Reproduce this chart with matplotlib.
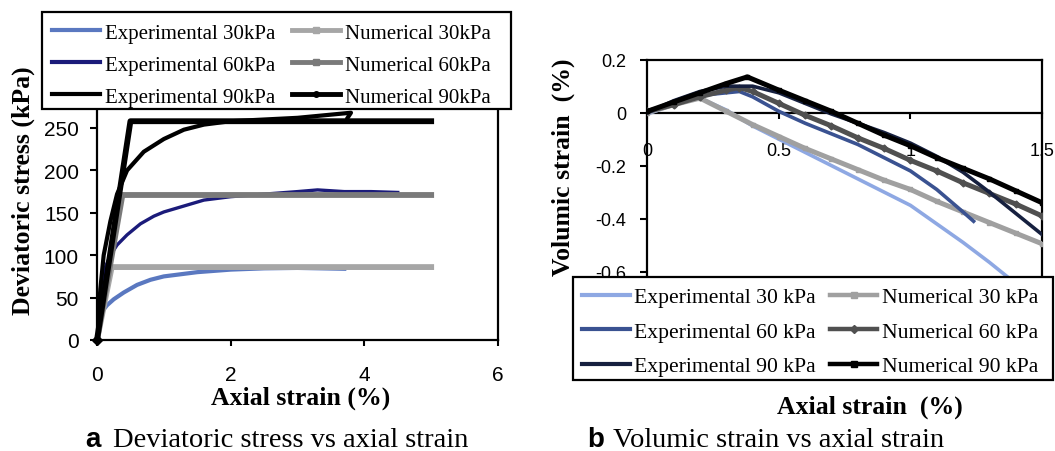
import matplotlib
matplotlib.use("Agg")
import matplotlib.pyplot as plt
from matplotlib.lines import Line2D
from matplotlib.patches import Rectangle

plt.rcParams['axes.unicode_minus'] = False
plt.rcParams['font.family'] = ['Liberation Sans', 'DejaVu Sans']

# ---------------- data: (a) deviatoric stress vs axial strain ----------------
a_exp30_x = [0, 0.02, 0.05, 0.1, 0.15, 0.25, 0.4, 0.6, 0.8, 1.0, 1.5, 2.0, 2.5, 3.0, 3.7]
a_exp30_y = [0, 15, 27, 36, 41, 48, 56, 65, 71, 75, 80, 83, 84.5, 85, 84]
a_exp60_x = [0, 0.03, 0.07, 0.12, 0.2, 0.3, 0.45, 0.65, 0.85, 1.0, 1.3, 1.6, 2.0, 2.5, 3.0, 3.3, 3.7, 4.1, 4.5]
a_exp60_y = [0, 35, 65, 85, 100, 112, 124, 137, 146, 151, 158, 165, 169, 172, 175, 177, 175, 175, 174]
a_exp90_x = [0, 0.05, 0.1, 0.2, 0.3, 0.45, 0.7, 1.0, 1.3, 1.6, 2.0, 2.5, 3.0, 3.4, 3.8, 3.75]
a_exp90_y = [0, 60, 100, 140, 172, 200, 222, 237, 248, 254, 258, 260, 262, 265, 268, 262]
a_num30_x = [0, 0.22, 5.0]
a_num30_y = [0, 86, 86]
a_num60_x = [0, 0.38, 5.0]
a_num60_y = [0, 171, 171]
a_num90_x = [0, 0.5, 5.0]
a_num90_y = [0, 258, 258]
a_xticks = [0, 2, 4, 6]
a_yticks = [0, 50, 100, 150, 200, 250]
a_labels = ['Experimental 30kPa', 'Experimental 60kPa', 'Experimental 90kPa',
            'Numerical 30kPa', 'Numerical 60kPa', 'Numerical 90kPa']

# ---------------- data: (b) volumic strain vs axial strain ----------------
b_exp30_x = [0, 0.1, 0.2, 0.3, 0.4, 0.5, 0.6, 0.7, 0.8, 0.9, 1.0, 1.1, 1.2, 1.3, 1.4, 1.5]
b_exp30_y = [-0.005, 0.03, 0.055, 0.01, -0.05, -0.1, -0.15, -0.2, -0.25, -0.3, -0.35, -0.42, -0.49, -0.565, -0.645, -0.73]
b_exp60_x = [0, 0.1, 0.2, 0.3, 0.35, 0.4, 0.5, 0.6, 0.7, 0.8, 0.9, 1.0, 1.1, 1.2, 1.24]
b_exp60_y = [0.0, 0.035, 0.065, 0.075, 0.08, 0.06, 0.005, -0.04, -0.08, -0.12, -0.17, -0.22, -0.29, -0.375, -0.41]
b_exp90_x = [0, 0.1, 0.2, 0.3, 0.4, 0.5, 0.6, 0.7, 0.8, 0.9, 1.0, 1.1, 1.2, 1.3, 1.4, 1.5]
b_exp90_y = [0.0, 0.045, 0.08, 0.1, 0.1, 0.075, 0.035, -0.005, -0.04, -0.075, -0.115, -0.165, -0.225, -0.3, -0.38, -0.46]
b_num30_x = [0, 0.1, 0.2, 0.3, 0.4, 0.5, 0.6, 0.7, 0.8, 0.9, 1.0, 1.1, 1.2, 1.3, 1.4, 1.5]
b_num30_y = [0.0, 0.03, 0.055, 0.005, -0.045, -0.09, -0.135, -0.175, -0.215, -0.255, -0.29, -0.335, -0.375, -0.415, -0.455, -0.495]
b_num60_x = [0, 0.1, 0.2, 0.3, 0.35, 0.4, 0.5, 0.6, 0.7, 0.8, 0.9, 1.0, 1.1, 1.2, 1.3, 1.4, 1.5]
b_num60_y = [0.005, 0.03, 0.06, 0.085, 0.095, 0.08, 0.035, -0.01, -0.05, -0.095, -0.135, -0.18, -0.22, -0.265, -0.305, -0.345, -0.39]
b_num90_x = [0, 0.1, 0.2, 0.3, 0.38, 0.5, 0.6, 0.7, 0.8, 0.9, 1.0, 1.1, 1.2, 1.3, 1.4, 1.5]
b_num90_y = [0.005, 0.04, 0.075, 0.11, 0.135, 0.085, 0.045, 0.005, -0.04, -0.085, -0.125, -0.17, -0.21, -0.25, -0.295, -0.34]
b_xticks = [0, 0.5, 1, 1.5]
b_xticklabels = ['0', '0.5', '1', '1.5']
b_yticks = [0.2, 0, -0.2, -0.4, -0.6]
b_yticklabels = ['0.2', '0', '-0.2', '-0.4', '-0.6']
b_labels = ['Experimental 30 kPa', 'Experimental 60 kPa', 'Experimental 90 kPa',
            'Numerical 30 kPa', 'Numerical 60 kPa', 'Numerical 90 kPa']

W, H = 1055, 452
fig = plt.figure(figsize=(W / 100, H / 100), dpi=100)

def fx(px):
    return px / W

def fy(py):
    return 1 - py / H

SERIF = ['Liberation Serif', 'DejaVu Serif']
SANS = ['Liberation Sans', 'DejaVu Sans']

# ---------------- axes (a) ----------------
axL, axR_, axB, axT = 97, 498, 341, 86.6
ax1 = fig.add_axes([fx(axL), fy(axB), (axR_ - axL) / W, (axB - axT) / H])
ax1.plot(a_exp30_x, a_exp30_y, color='#5a78c0', lw=3.0, zorder=3)
ax1.plot(a_exp60_x, a_exp60_y, color='#1b1b7a', lw=2.4, zorder=3)
ax1.plot(a_num30_x, a_num30_y, color='#a6a6a6', lw=4.2, zorder=4)
ax1.plot(a_num60_x, a_num60_y, color='#7a7a7a', lw=4.2, zorder=4)
ax1.plot(a_exp90_x, a_exp90_y, color='black', lw=3.0, zorder=5)
ax1.plot(a_num90_x, a_num90_y, color='black', lw=4.2, marker='D', ms=5, markevery=[0],
         zorder=5, clip_on=False)
ax1.set_xlim(0, 6)
ax1.set_ylim(0, 300)
ax1.set_xticks(a_xticks)
ax1.set_yticks(a_yticks)
ax1.tick_params(axis='x', direction='out', length=4, width=1.5, pad=14, labelsize=15)
ax1.tick_params(axis='y', direction='out', length=5, width=1.5, pad=8, labelsize=15)
for s in ax1.spines.values():
    s.set_linewidth(1.6)
ax1.set_xlabel('Axial strain (%)', family=SERIF, fontweight='bold', fontsize=18.5, va='center')
ax1.xaxis.set_label_coords((301 - axL) / (axR_ - axL), (axB - 398) / (axB - axT))
ax1.set_ylabel('Deviatoric stress (kPa)', family=SERIF, fontweight='bold', fontsize=18.5, va='center')
ax1.yaxis.set_label_coords((23 - axL) / (axR_ - axL), (axB - 191) / (axB - axT))

# ---------------- axes (b) ----------------
bxL, bxR, byB, byT = 647.3, 1042, 378.5, 60.7
ax2 = fig.add_axes([fx(bxL), fy(byB), (bxR - bxL) / W, (byB - byT) / H])
ax2.plot(b_exp30_x, b_exp30_y, color='#8ea8e3', lw=2.6, zorder=3)
ax2.plot(b_num30_x, b_num30_y, color='#a0a0a0', lw=3.6, marker='s', ms=3.5, zorder=3)
ax2.plot(b_exp60_x, b_exp60_y, color='#3a5291', lw=2.6, zorder=4)
ax2.plot(b_num60_x, b_num60_y, color='#505050', lw=3.6, marker='D', ms=3.5, zorder=4)
ax2.plot(b_exp90_x, b_exp90_y, color='#16203f', lw=2.6, zorder=5)
ax2.plot(b_num90_x, b_num90_y, color='black', lw=3.6, marker='s', ms=3.5, zorder=5)
ax2.set_xlim(0, 1.5)
ax2.set_ylim(-1.0, 0.2)
ax2.spines['bottom'].set_position(('data', 0))
for s in ax2.spines.values():
    s.set_linewidth(1.6)
ax2.set_xticks(b_xticks)
ax2.set_xticklabels(b_xticklabels)
ax2.set_yticks(b_yticks)
ax2.set_yticklabels(b_yticklabels)
ax2.tick_params(axis='x', direction='out', length=4, width=1.5, pad=17, labelsize=13)
ax2.tick_params(axis='y', direction='out', length=5, width=1.5, pad=10, labelsize=13)
ax2.set_xlabel('Axial strain  (%)', family=SERIF, fontweight='bold', fontsize=18.5, va='center')
ax2.xaxis.set_label_coords((870 - bxL) / (bxR - bxL), (byB - 407) / (byB - byT))
ax2.set_ylabel('Volumic strain  (%)', family=SERIF, fontweight='bold', fontsize=18.5, va='center')
ax2.yaxis.set_label_coords((563 - bxL) / (bxR - bxL), (byB - 167) / (byB - byT))

# ---------------- legends (frame drawn as a separate white box) ----------------
def handles(colors, lws, markers):
    hs = []
    for c, lw, m in zip(colors, lws, markers):
        hs.append(Line2D([], [], color=c, lw=lw, marker=m, ms=4 if m else 0))
    return hs

def legend_box(x0, y0, x1, y1):
    fig.add_artist(Rectangle((fx(x0), fy(y1)), (x1 - x0) / W, (y1 - y0) / H,
                             transform=fig.transFigure, facecolor='white',
                             edgecolor='black', linewidth=1.6, zorder=4))

legend_box(42, 13, 511, 110)
hA = handles(['#5a78c0', '#1b1b7a', 'black', '#a6a6a6', '#7a7a7a', 'black'],
             [3, 3, 3, 3.5, 3.5, 3.5], [None, None, None, 's', 's', 'o'])
legA = fig.legend(hA, a_labels, ncol=2, loc='upper left',
                  bbox_to_anchor=(fx(52), fy(24)),
                  borderaxespad=0, borderpad=0, prop={'family': SERIF, 'size': 15},
                  handlelength=2.3, handletextpad=0.25, columnspacing=0.8,
                  labelspacing=0.6, frameon=False, numpoints=1)
legA.set_zorder(5)

legend_box(573, 278, 1053, 381)
hB = handles(['#8ea8e3', '#3a5291', '#16203f', '#a0a0a0', '#505050', 'black'],
             [3, 3, 3, 3.2, 3.2, 3.2], [None, None, None, 's', 'D', 's'])
legB = fig.legend(hB, b_labels, ncol=2, loc='upper left',
                  bbox_to_anchor=(fx(582), fy(288)),
                  borderaxespad=0, borderpad=0, prop={'family': SERIF, 'size': 15.6},
                  handlelength=2.2, handletextpad=0.2, columnspacing=0.65,
                  labelspacing=0.66, frameon=False, numpoints=1)
legB.set_zorder(5)

# ---------------- captions ----------------
fig.text(fx(85), fy(447), 'a', family=SANS, fontweight='bold',
         fontsize=20, ha='left', va='baseline')
fig.text(fx(113), fy(447), 'Deviatoric stress vs axial strain', family=SERIF,
         fontsize=20.5, ha='left', va='baseline')
fig.text(fx(587), fy(447), 'b', family=SANS, fontweight='bold',
         fontsize=20, ha='left', va='baseline')
fig.text(fx(613), fy(447), 'Volumic strain vs axial strain', family=SERIF,
         fontsize=20.5, ha='left', va='baseline')

fig.savefig('out.png', dpi=100)
